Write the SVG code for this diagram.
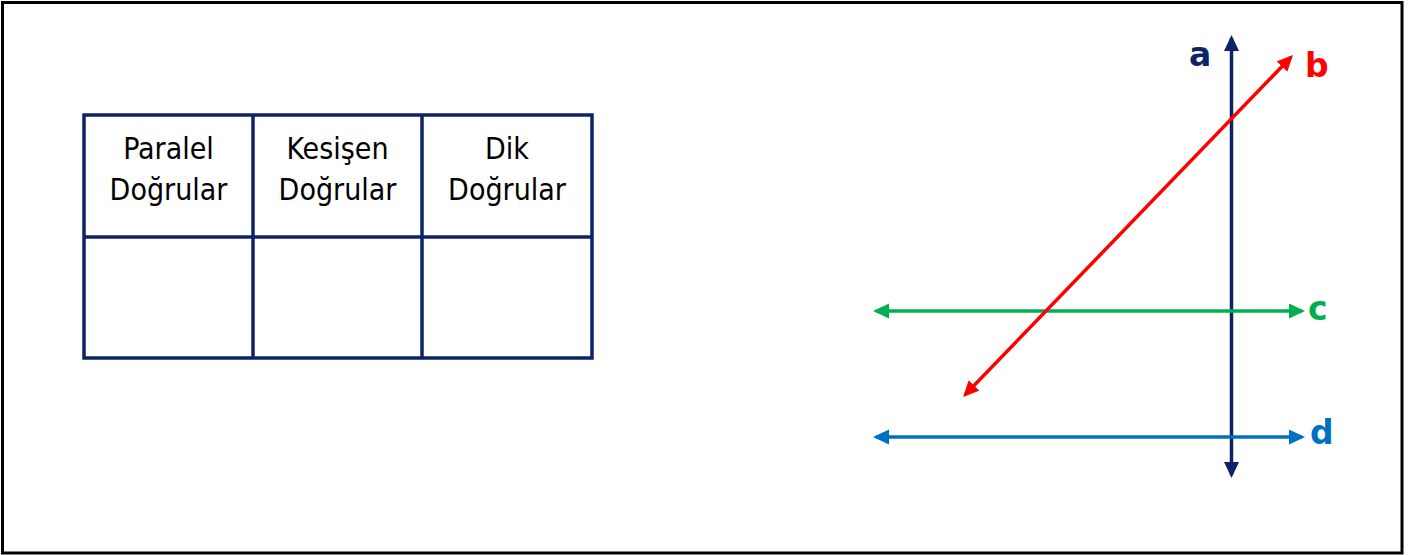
<svg xmlns="http://www.w3.org/2000/svg" width="1417" height="555" viewBox="0 0 1417 555">
  <style>
    .cell { fill: none; stroke: #0c2466; stroke-width: 3.5; }
    .hdr { font-family: "DejaVu Sans Condensed", "DejaVu Sans", sans-serif; font-stretch: condensed; font-size: 30px; fill: #000; text-anchor: middle; }
    .lbl { font-family: "DejaVu Sans", sans-serif; font-size: 33px; font-weight: bold; }
    .ln { stroke-width: 3.5; fill: none; }
  </style>
  <defs>
    <marker id="mNavy" markerUnits="userSpaceOnUse" markerWidth="18" markerHeight="16" refX="13" refY="7.5" orient="auto-start-reverse" viewBox="0 0 18 16">
      <path d="M0,0 L16,7.5 L0,15 z" fill="#0c2466"/>
    </marker>
    <marker id="mRed" markerUnits="userSpaceOnUse" markerWidth="18" markerHeight="16" refX="13" refY="7.5" orient="auto-start-reverse" viewBox="0 0 18 16">
      <path d="M0,0 L16,7.5 L0,15 z" fill="#ff0000"/>
    </marker>
    <marker id="mGreen" markerUnits="userSpaceOnUse" markerWidth="18" markerHeight="16" refX="13" refY="7.5" orient="auto-start-reverse" viewBox="0 0 18 16">
      <path d="M0,0 L16,7.5 L0,15 z" fill="#00b050"/>
    </marker>
    <marker id="mBlue" markerUnits="userSpaceOnUse" markerWidth="18" markerHeight="16" refX="13" refY="7.5" orient="auto-start-reverse" viewBox="0 0 18 16">
      <path d="M0,0 L16,7.5 L0,15 z" fill="#0070c0"/>
    </marker>
  </defs>
  <rect x="0" y="0" width="1417" height="555" fill="#fff"/>
  <rect id="frame" x="2.5" y="2.5" width="1399.5" height="550.5" fill="none" stroke="#000" stroke-width="3"/>

  <g id="table">
    <rect class="cell" x="84" y="115" width="508" height="243"/>
    <line class="cell" x1="253" y1="115" x2="253" y2="358"/>
    <line class="cell" x1="422" y1="115" x2="422" y2="358"/>
    <line class="cell" x1="84" y1="237" x2="592" y2="237"/>
  </g>
  <g id="cell-paralel">
    <text class="hdr" x="168.5" y="159">Paralel</text>
    <text class="hdr" x="168.5" y="200">Doğrular</text>
  </g>
  <g id="cell-kesisen">
    <text class="hdr" x="337.5" y="159">Kesişen</text>
    <text class="hdr" x="337.5" y="200">Doğrular</text>
  </g>
  <g id="cell-dik">
    <text class="hdr" x="507" y="159">Dik</text>
    <text class="hdr" x="507" y="200">Doğrular</text>
  </g>

  <g id="connectors">
    <line id="line-a" class="ln" stroke="#0c2466" x1="1231.5" y1="38" x2="1231.5" y2="475" marker-start="url(#mNavy)" marker-end="url(#mNavy)"/>
    <line id="line-c" class="ln" stroke="#00b050" x1="876" y1="311" x2="1302" y2="311" marker-start="url(#mGreen)" marker-end="url(#mGreen)"/>
    <line id="line-d" class="ln" stroke="#0070c0" x1="876" y1="437" x2="1302" y2="437" marker-start="url(#mBlue)" marker-end="url(#mBlue)"/>
    <line id="line-b" class="ln" stroke="#ff0000" x1="965.1" y1="394.8" x2="1290.9" y2="57.2" marker-start="url(#mRed)" marker-end="url(#mRed)"/>
  </g>

  <g id="label-a"><text class="lbl" x="1189" y="66" fill="#0c2466">a</text></g>
  <g id="label-b"><text class="lbl" x="1305" y="77" fill="#ff0000">b</text></g>
  <g id="label-c"><text class="lbl" x="1308" y="320" fill="#00b050">c</text></g>
  <g id="label-d"><text class="lbl" x="1310" y="444" fill="#0070c0">d</text></g>
</svg>
